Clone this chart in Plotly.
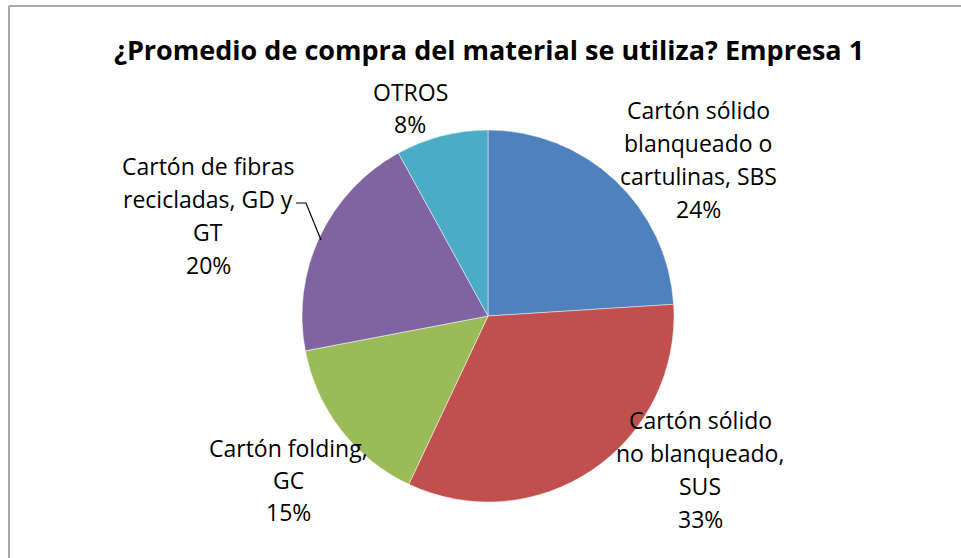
import plotly.graph_objects as go

W, H = 961, 558

# Purchase share per board material (percent), clockwise from 12 o'clock
categories = [
    "Cartón sólido blanqueado o cartulinas, SBS",
    "Cartón sólido no blanqueado, SUS",
    "Cartón folding, GC",
    "Cartón de fibras recicladas, GD y GT",
    "OTROS",
]
values = [24, 33, 15, 20, 8]
label_lines = [
    ["Cartón sólido", "blanqueado o", "cartulinas, SBS"],
    ["Cartón sólido", "no blanqueado,", "SUS"],
    ["Cartón folding,", "GC"],
    ["Cartón de fibras", "recicladas, GD y", "GT"],
    ["OTROS"],
]
colors = ["#4F81BD", "#C0504D", "#9BBB59", "#8064A2", "#4BACC6"]
title = "¿Promedio de compra del material se utiliza? Empresa 1"

# label block anchors in pixels: (center x, first line center y)
label_pos = [(698, 110), (700, 420), (288, 448), (208, 166), (410, 92)]
line_step = [33, 33, 32, 33, 32]

FONT = "Open Sans"


def px(x):
    return x / W


def py(y):
    return 1 - y / H


cx, cy, r = 488, 316, 186

fig = go.Figure(
    go.Pie(
        labels=categories,
        values=values,
        sort=False,
        direction="clockwise",
        rotation=0,
        marker=dict(colors=colors, line=dict(color="rgba(255,255,255,0.6)", width=0.8)),
        textinfo="none",
        hoverinfo="label+percent",
        showlegend=False,
        domain=dict(x=[px(cx - r), px(cx + r)], y=[py(cy + r), py(cy - r)]),
    )
)

annotations = [
    dict(
        text=f"<b>{title}</b>",
        x=px(489), y=py(50), xref="paper", yref="paper",
        xanchor="center", yanchor="middle", showarrow=False,
        font=dict(family=FONT, size=27, color="#000000"),
    )
]
for lines, v, (lx, ly), step in zip(label_lines, values, label_pos, line_step):
    for i, t in enumerate(lines + [f"{v}%"]):
        annotations.append(
            dict(
                text=t,
                x=px(lx), y=py(ly + i * step), xref="paper", yref="paper",
                xanchor="center", yanchor="middle", showarrow=False,
                font=dict(family=FONT, size=23, color="#000000"),
            )
        )

shapes = [
    # chart frame (left and top edges)
    dict(type="line", xref="paper", yref="paper",
         x0=px(9), y0=py(6), x1=px(9), y1=py(H + 2),
         line=dict(color="#8C8C8C", width=1.5)),
    dict(type="line", xref="paper", yref="paper",
         x0=px(9), y0=py(6), x1=px(W + 2), y1=py(6),
         line=dict(color="#8C8C8C", width=1.5)),
    # leader line to the recycled-fibre slice
    dict(type="path", xref="paper", yref="paper",
         path=f"M {px(296)} {py(203)} L {px(306)} {py(203)} L {px(321)} {py(240)}",
         line=dict(color="#000000", width=1.2)),
]

fig.update_layout(
    width=W, height=H,
    margin=dict(l=0, r=0, t=0, b=0),
    paper_bgcolor="white", plot_bgcolor="white",
    annotations=annotations,
    shapes=shapes,
)

fig.write_html("out.html")
